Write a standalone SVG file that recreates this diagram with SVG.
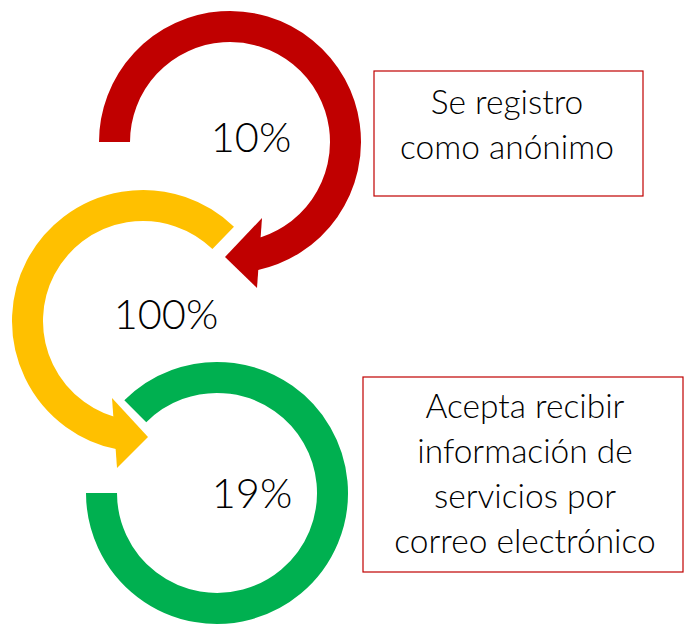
<svg xmlns="http://www.w3.org/2000/svg" width="684" height="625" viewBox="0 0 684 625">
<style>
.arc{fill:none;stroke-width:31;stroke-linecap:butt}
.pct{font-family:Lato,"Open Sans","Liberation Sans",sans-serif;font-weight:300;font-size:41.5px;fill:#000;text-anchor:middle}
.lbl{font-family:Lato,"Open Sans","Liberation Sans",sans-serif;font-weight:300;font-size:33.5px;fill:#000;text-anchor:middle}
.box{fill:#fff;stroke:#C00000;stroke-width:1.2}
</style>
<rect width="684" height="625" fill="#fff"/>
<g id="connectors">
<g id="red-arrow">
<path class="arc" stroke="#C00000" d="M 114.5 142 A 115.5 115.5 0 1 1 254.0 255.0"/>
<polygon fill="#C00000" points="262,218 225,257 257,288"/>
</g>
<g id="yellow-arrow">
<path class="arc" stroke="#FFC000" d="M 223.2 237.9 A 115.5 115.5 0 1 0 121.0 434.4"/>
<polygon fill="#FFC000" points="112,398 148,437 117,468"/>
</g>
<g id="green-ring">
<path class="arc" stroke="#00B050" d="M 135.3 411.3 A 115.5 115.5 0 1 1 101.5 493"/>
</g>
</g>
<g id="node-10">
<text class="pct" x="251" y="152">10%</text>
</g>
<g id="node-100">
<text class="pct" x="166" y="329">100%</text>
</g>
<g id="node-19">
<text class="pct" x="252" y="508">19%</text>
</g>
<g id="box-anonimo">
<rect class="box" x="374" y="71" width="269" height="125"/>
<text class="lbl" x="507" y="114">Se registro</text>
<text class="lbl" x="507" y="159">como anónimo</text>
</g>
<g id="box-correo">
<rect class="box" x="363" y="377" width="320" height="195"/>
<text class="lbl" x="525" y="418">Acepta recibir</text>
<text class="lbl" x="525" y="463">información de</text>
<text class="lbl" x="525" y="508">servicios por</text>
<text class="lbl" x="525" y="553">correo electrónico</text>
</g>
</svg>
